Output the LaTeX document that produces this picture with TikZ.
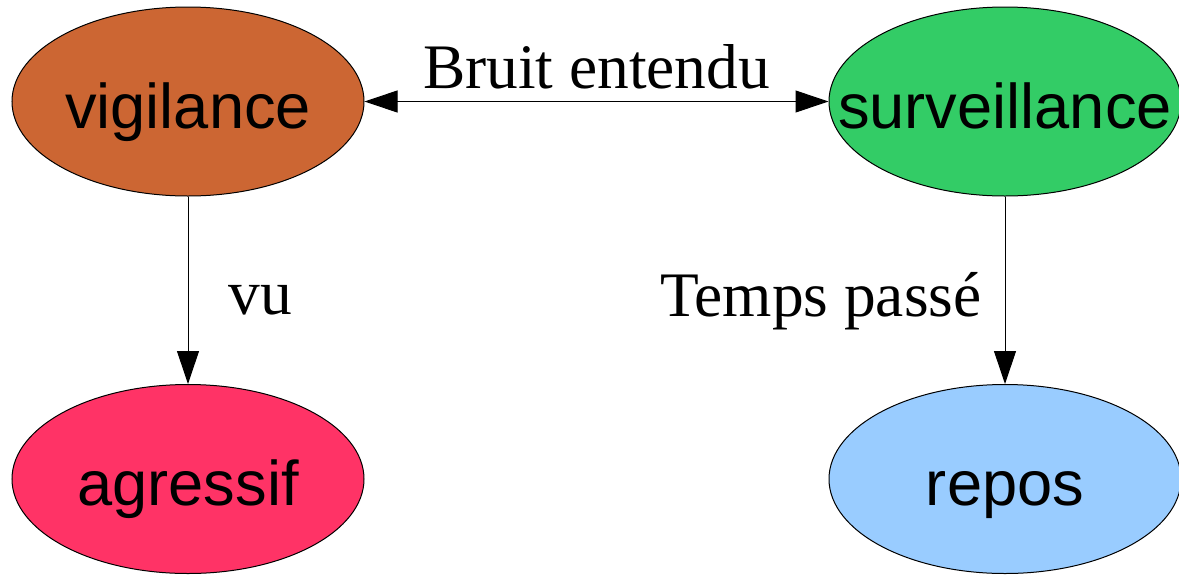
\documentclass[tikz,border=0pt]{standalone}
\usepackage{fontspec}
\setmainfont{Liberation Serif}
\newfontfamily\arialf{Liberation Sans}
\usetikzlibrary{shapes.geometric,arrows.meta}
\definecolor{cvig}{HTML}{CC6633}
\definecolor{csurv}{HTML}{33CC66}
\definecolor{cagr}{HTML}{FF3366}
\definecolor{crep}{HTML}{99CCFF}
\newcommand{\zwtext}[1]{\makebox[0pt][c]{#1}}
\tikzset{
  statenode/.style={ellipse, draw=black, line width=0.5pt, inner sep=0pt,
    minimum width=176pt, minimum height=94.5pt,
    text height=26.5pt, text depth=0pt,
    font=\arialf\fontsize{31.6}{38}\selectfont},
  arr/.style={line width=0.5pt, -{Triangle[length=16.5pt,width=11pt]}},
  biarr/.style={line width=0.5pt, {Triangle[length=16.5pt,width=11pt]}-{Triangle[length=16.5pt,width=11pt]}},
  edgelab/.style={font=\fontsize{31.7}{38}\selectfont, inner sep=0pt}
}
\begin{document}
\begin{tikzpicture}[x=0.5pt,y=-0.5pt]
\useasboundingbox[fill=white] (0,0) rectangle (1179,574);
\node[statenode, fill=cvig] (vig) at (188,101.5) {\zwtext{vigilance}};
\node[statenode, fill=csurv] (surv) at (1005,101.5) {\zwtext{surveillance}};
\node[statenode, fill=cagr] (agr) at (188,479) {\zwtext{agressif}};
\node[statenode, fill=crep] (rep) at (1005,479) {\zwtext{repos}};
\draw[biarr] (vig) -- node[edgelab, anchor=base, yshift=6.5pt] (l1) {Bruit entendu} (surv);
\draw[arr] (vig) -- node[edgelab, anchor=base west, xshift=20pt, yshift=-12.25pt] (l2) {vu} (agr);
\draw[arr] (surv) -- node[edgelab, anchor=base east, xshift=-11.5pt, yshift=-13.25pt] (l3) {Temps passé} (rep);
\end{tikzpicture}
\end{document}
